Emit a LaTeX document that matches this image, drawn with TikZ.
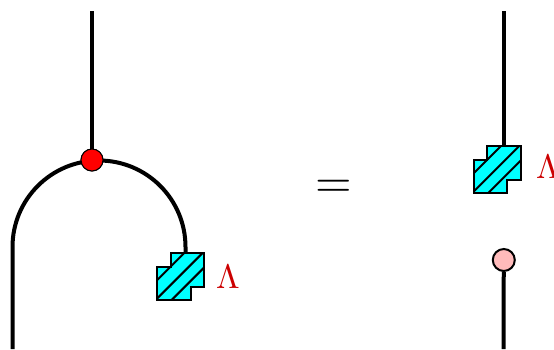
\documentclass[tikz,border=0pt]{standalone}
\usepackage{graphicx}
\usetikzlibrary{calc}
\newcommand{\hatchbox}[2]{%
  \begin{scope}[shift={(#1,#2)}]
    \fill[fill=boxcyan] (0,13.4)--(13.4,13.4)--(13.4,0)--(46.7,0)--(46.7,33.4)--(33.4,33.4)--(33.4,46.7)--(0,46.7)--cycle;
    \begin{scope}
      \clip (0,13.4)--(13.4,13.4)--(13.4,0)--(46.7,0)--(46.7,33.4)--(33.4,33.4)--(33.4,46.7)--(0,46.7)--cycle;
      \draw[hatch] (-3,29.7)--(30.7,-4);
      \draw[hatch] (-3,48)--(50,-5);
      \draw[hatch] (13,48)--(50,11);
    \end{scope}
    \draw[boxline] (0,13.4)--(13.4,13.4)--(13.4,0)--(46.7,0)--(46.7,33.4)--(33.4,33.4)--(33.4,46.7)--(0,46.7)--cycle;
  \end{scope}}
\definecolor{boxcyan}{RGB}{0,255,255}
\definecolor{lamred}{RGB}{204,0,0}
\definecolor{dotpink}{RGB}{255,187,187}
\tikzset{
  wire/.style={line width=4pt,black},
  hatch/.style={line width=2pt,black},
  boxline/.style={line width=2pt,black,line join=miter},
  reddot/.style={circle,draw=black,line width=1pt,fill=red,minimum size=22pt,inner sep=0pt},
  pinkdot/.style={circle,draw=black,line width=2pt,fill=dotpink,minimum size=22pt,inner sep=0pt},
  lam/.style={text=lamred,inner sep=0pt},
  eq/.style={inner sep=0pt}
}
\begin{document}
\begin{tikzpicture}[x=1pt,y=-1pt]
\useasboundingbox (0,0) rectangle (554,349);
\coordinate (ltop) at (92,11);
\coordinate (lleft) at (12.5,247);
\coordinate (lbot) at (12.5,349);
\coordinate (lbox) at (185.5,254);
\coordinate (rtop) at (503.5,11);
\coordinate (rbox) at (503.5,147);
\coordinate (rbot) at (503.5,349);
\node[reddot] (mul) at (92,160) {};
\node[pinkdot] (unit) at (503.8,260) {};
\draw[wire] (ltop) -- (mul);
\draw[wire] (lbot) -- (lleft) arc[start angle=180,end angle=360,radius=86.5] -- (lbox);
\draw[wire] (rtop) -- (rbox);
\draw[wire] (unit) -- (rbot);
\node[reddot] at (mul) {};
\hatchbox{157.3}{253.3}
\hatchbox{474}{146.3}
\node[lam] (l1) at (228,277) {\scalebox{3.4}{$\Lambda$}};
\node[lam] (l2) at (548,167) {\scalebox{3.4}{$\Lambda$}};
\node[eq] (eqs) at (333.4,188.5) {\scalebox{4.7}{$=$}};
\end{tikzpicture}
\end{document}
